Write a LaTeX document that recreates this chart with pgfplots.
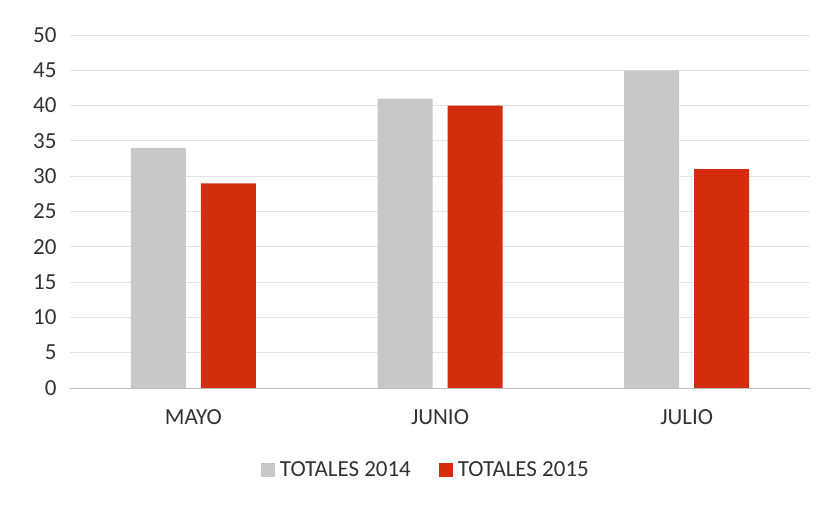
\documentclass[border=0pt]{standalone}
\usepackage{fontspec}
\setmainfont{Carlito}
\usepackage{pgfplots}
\pgfplotsset{compat=1.18}
\definecolor{gris}{HTML}{C8C8C8}
\definecolor{rojo}{HTML}{D32C0E}
\definecolor{gridc}{HTML}{E4E4E4}
\definecolor{txt}{HTML}{333333}

\begin{document}
\begin{tikzpicture}
  \path[use as bounding box, fill=white] (0pt,0pt) rectangle (825pt,506pt);
  \begin{axis}[
      at={(70pt,118pt)}, anchor=south west,
      scale only axis,
      width=740pt, height=353pt,
      ybar=15pt, bar width=55pt,
      xmin=-0.5, xmax=2.5,
      ymin=0, ymax=50,
      xtick=data,
      xticklabels={MAYO, JUNIO, JULIO},
      ytick={5,10,...,50},
      ymajorgrids,
      xmajorgrids=false,
      grid style={draw=gridc, line width=0.8pt},
      axis line style={draw=none},
      major tick length=0pt,
      tick label style={font=\fontsize{23}{27}\selectfont, text=txt},
      /pgf/number format/assume math mode=true,
      yticklabel style={xshift=-10pt},
      xticklabel style={yshift=-18pt},
      extra y ticks={0},
      extra y tick style={ymajorgrids=true, grid style={draw=black!25, line width=0.9pt}},
      legend style={at={(0.481,-0.232)}, anchor=center, draw=none,
        legend columns=2, font=\fontsize{23}{27}\selectfont, text=txt,
        /tikz/every odd column/.append style={column sep=3pt},
        /tikz/every even column/.append style={column sep=26pt}},
      legend image code/.code={\fill[#1] (0pt,-7pt) rectangle (14pt,7pt);},
      legend cell align=left,
    ]
    \addplot[fill=gris, draw=none] coordinates {(0,34) (1,41) (2,45)};
    \addlegendentry{TOTALES 2014}
    \addplot[fill=rojo, draw=none] coordinates {(0,29) (1,40) (2,31)};
    \addlegendentry{TOTALES 2015}
  \end{axis}
\end{tikzpicture}
\end{document}
